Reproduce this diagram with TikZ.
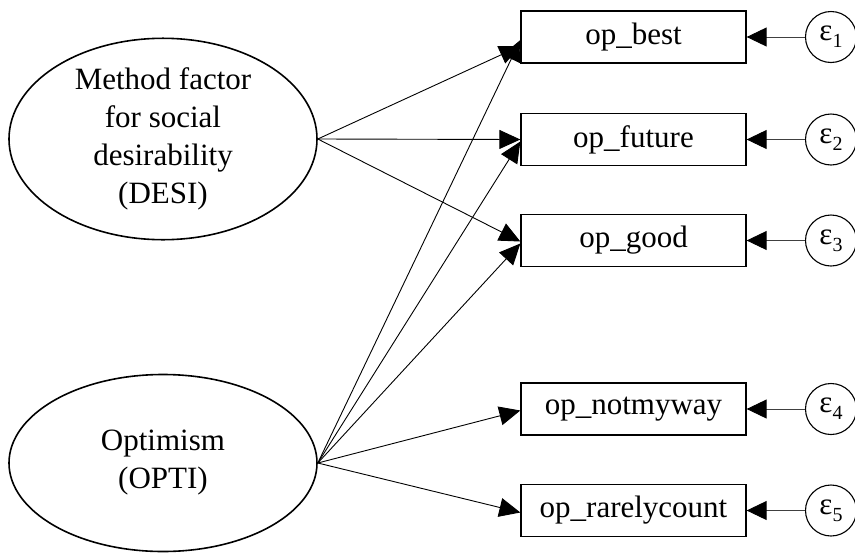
\documentclass[tikz,border=0pt]{standalone}
\usepackage{fontspec}
\setmainfont{Liberation Serif}
\usetikzlibrary{shapes.geometric,arrows.meta}
\newcommand{\epsub}[1]{ε\raisebox{-7pt}{\fontsize{20}{20}\selectfont #1}}
\tikzset{
  latent/.style={draw, ellipse, line width=1.6pt, minimum width=308pt, minimum height=177pt, inner sep=0pt, align=center, font=\fontsize{31}{38}\selectfont},
  obs/.style={draw, rectangle, line width=1.3pt, minimum width=225pt, minimum height=52pt, inner sep=0pt, font=\fontsize{31}{38}\selectfont},
  err/.style={draw, circle, line width=1.1pt, minimum size=51pt, inner sep=0pt, font=\fontsize{31}{38}\selectfont},
  path/.style={line width=0.9pt, -{Triangle[length=21pt,width=19pt]}},
  epath/.style={line width=0.9pt, draw=black!75, -{Triangle[length=20pt,width=19pt,color=black]}}
}
\begin{document}
\begin{tikzpicture}[x=1pt,y=-1pt]
\useasboundingbox (0,0) rectangle (855,555);
\node[latent] (desi) at (163,139) {Method factor\\for social\\desirability\\(DESI)};
\node[latent] (opti) at (163,463) {Optimism\\(OPTI)};
\node[obs] (b1) at (633.5,37) {op\_best};
\node[obs] (b2) at (633.5,139.5) {op\_future};
\node[obs] (b3) at (633.5,240.5) {op\_good};
\node[obs] (b4) at (633.5,409) {op\_notmyway};
\node[obs] (b5) at (633.5,510.5) {op\_rarelycount};
\node[err] (e1) at (831,37) {\epsub{1}};
\node[err] (e2) at (831,139.5) {\epsub{2}};
\node[err] (e3) at (831,240.5) {\epsub{3}};
\node[err] (e4) at (831,409) {\epsub{4}};
\node[err] (e5) at (831,510.5) {\epsub{5}};
% DESI paths
\draw[path] (desi.east) -- ([yshift=-9pt]b1.west);
\draw[path] (desi.east) -- (b2.west);
\draw[path] (desi.east) -- ([yshift=-1pt]b3.west);
% OPTI paths
\draw[path] (opti.east) -- ([yshift=-3pt]b1.west);
\draw[path] (opti.east) -- ([yshift=-2pt]b2.west);
\draw[path] (opti.east) -- ([yshift=-3pt]b3.west);
\draw[path] (opti.east) -- ([yshift=-1.5pt]b4.west);
\draw[path] (opti.east) -- ([yshift=-2pt]b5.west);
% error paths
\foreach \i in {1,...,5}{
  \draw[epath] (e\i.west) -- (b\i.east);
}
\end{tikzpicture}
\end{document}
